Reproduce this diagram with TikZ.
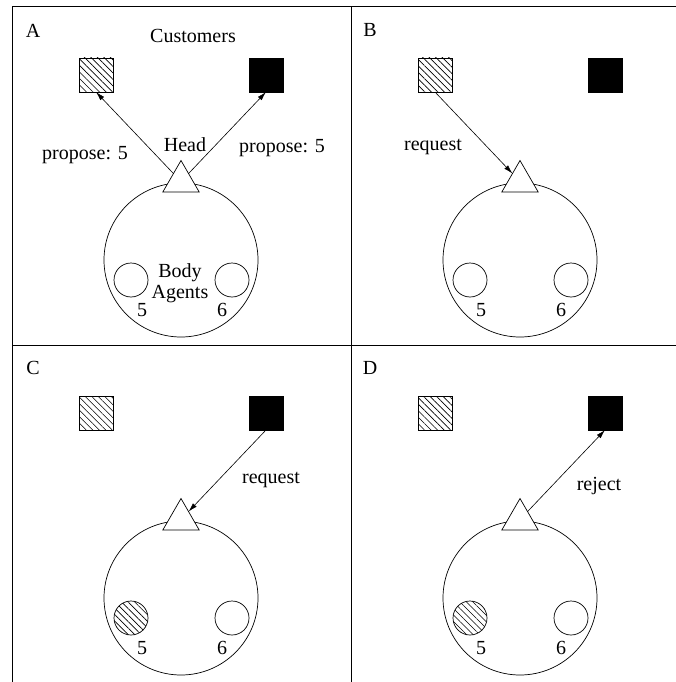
\documentclass[tikz,border=0pt]{standalone}
\usepackage{fontspec}
\setmainfont{Liberation Serif}
\usetikzlibrary{arrows.meta,shapes.geometric,patterns.meta}

\begin{document}
\begin{tikzpicture}[x=1pt,y=-1pt,
  font=\fontsize{20}{20.5}\selectfont,
  frame/.style={line width=1pt},
  shp/.style={draw, line width=0.7pt, inner sep=0pt, outer sep=0pt},
  cust/.style={shp, minimum size=34pt},
  hatched/.style={pattern={Lines[angle=-45,distance=4.6pt,line width=0.6pt]}},
  solidfill/.style={fill=black},
  plainfill/.style={},
  bodycirc/.style={shp, circle, minimum size=154pt},
  agent/.style={shp, circle, minimum size=34pt},
  headtri/.style={shp, regular polygon, regular polygon sides=3, minimum size=42pt, fill=white},
  lbl/.style={inner sep=0pt},
  conn/.style={line width=0.6pt, -{Latex[length=9pt,width=5pt]}},
  panel/.pic={
    \node[cust, hatched] (-hs) at (96,75) {};
    \node[cust, solidfill] (-bs) at (266,75) {};
    \node[bodycirc] (-body) at (181,260) {};
    \node[agent, #1] (-a5) at (131,280) {};
    \node[agent] (-a6) at (232,280) {};
    \node[lbl] (-n5) at (142,310) {5};
    \node[lbl] (-n6) at (222,310) {6};
    \node[headtri] (-head) at (181,181.5) {};
  }
]
\useasboundingbox (0,0) rectangle (676,682);

% frame of the four panels
\draw[frame] (12,682) -- (12,7) -- (676,7);
\draw[frame] (12,345) -- (676,345);
\draw[frame] (351,7) -- (351,682);

% the four panels
\pic (A) at (0,0) {panel=plainfill};
\pic (B) at (339,0) {panel=plainfill};
\pic (C) at (0,338) {panel=hatched};
\pic (D) at (339,338) {panel=hatched};

% panel A
\node[lbl] (A-tag) at (33,31) {A};
\node[lbl] (A-cust) at (193,36) {Customers};
\node[lbl] (A-headlbl) at (185,145) {Head};
\node[lbl, align=center] (A-bodylbl) at (180,283) {Body\\Agents};
\draw[conn] (A-head) -- (A-hs.south);
\draw[conn] (A-head) -- (A-bs.south);
\node[lbl] (A-pl) at (85,155) {propose: 5};
\node[lbl] (A-pr) at (282,148) {propose: 5};

% panel B
\node[lbl] (B-tag) at (370,30) {B};
\draw[conn] (B-hs.south) -- (B-head);
\node[lbl] (B-req) at (433,147) {request};

% panel C
\node[lbl] (C-tag) at (33,368) {C};
\draw[conn] (C-bs.south) -- (C-head);
\node[lbl] (C-req) at (271,480) {request};

% panel D
\node[lbl] (D-tag) at (370,368) {D};
\draw[conn] (D-head) -- (D-bs.south);
\node[lbl] (D-rej) at (599,486) {reject};
\end{tikzpicture}
\end{document}
